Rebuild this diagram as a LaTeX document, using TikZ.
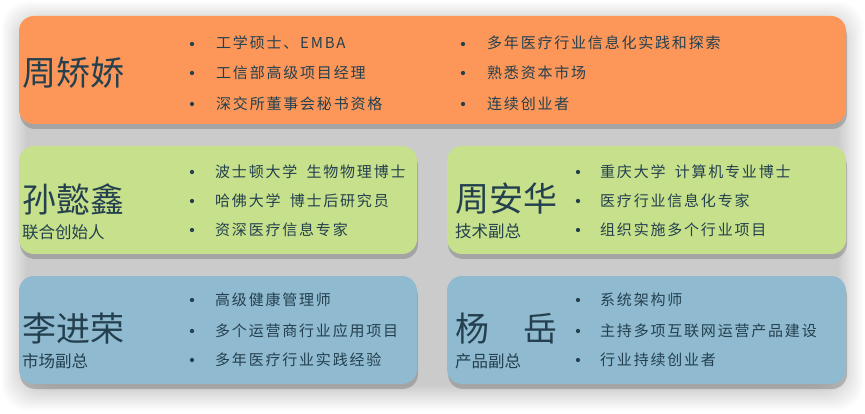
\documentclass[tikz,border=0pt]{standalone}
\usepackage{fontspec}
\newfontfamily\cjk{Noto Sans CJK SC}
\usetikzlibrary{shadows}
\definecolor{orangebox}{HTML}{FC9759}
\definecolor{greenbox}{HTML}{C6E08B}
\definecolor{bluebox}{HTML}{8FBACF}
\definecolor{txt}{HTML}{24404F}
\tikzset{
  panel/.style={rounded corners=15pt, draw=none,
    drop shadow={shadow xshift=1pt, shadow yshift=-5pt, opacity=0.3, fill=black!70}},
  bigname/.style={font=\cjk\fontsize{34}{34}\selectfont, text=txt, anchor=west, inner sep=0pt},
  role/.style={font=\cjk\fontsize{16.5}{17}\selectfont, text=txt, anchor=west, inner sep=0pt},
  item/.style={font=\cjk\fontsize{15}{15}\selectfont\addfontfeature{LetterSpace=12}, text=txt, anchor=west, inner sep=0pt},
  dot/.style={circle, fill=txt, draw=none, minimum size=4.3pt, inner sep=0pt}
}
\begin{document}
\begin{tikzpicture}[x=1pt,y=-1pt]
\useasboundingbox (0,0) rectangle (865,414);
\fill[white] (0,0) rectangle (865,414);
% soft grey haze behind panels
\foreach \i in {0,2,...,24} {
  \fill[black, opacity=0.017, rounded corners=26pt] (2+\i,2+\i) rectangle (863-\i,410-\i);
}
% panels
\path[panel, fill=orangebox] (19,16) rectangle (846,124);
\path[panel, fill=greenbox] (19,146) rectangle (417,254);
\path[panel, fill=greenbox] (447,146) rectangle (846,254);
\path[panel, fill=bluebox] (19,276) rectangle (417,384);
\path[panel, fill=bluebox] (447,276) rectangle (846,384);

% top panel
\node[bigname] (n1) at (22,73) {周矫娇};
\node[dot] (b11) at (192,44) {};
\node[dot] (b12) at (192,73) {};
\node[dot] (b13) at (192,104) {};
\node[item] (t11) at (216,43) {工学硕士、EMBA};
\node[item] (t12) at (216,73) {工信部高级项目经理};
\node[item] (t13) at (216,104) {深交所董事会秘书资格};
\node[dot] (b14) at (463,44) {};
\node[dot] (b15) at (463,73) {};
\node[dot] (b16) at (463,104) {};
\node[item] (t14) at (487,43) {多年医疗行业信息化实践和探索};
\node[item] (t15) at (487,73) {熟悉资本市场};
\node[item] (t16) at (487,104) {连续创业者};

% green left
\node[bigname] (n2) at (22,199) {孙懿鑫};
\node[role] (r2) at (22,232) {联合创始人};
\node[dot] (b21) at (192,172) {};
\node[dot] (b22) at (192,201) {};
\node[dot] (b23) at (192,230) {};
\node[item] (t21) at (215,172) {波士顿大学\hspace{4pt} 生物物理博士};
\node[item] (t22) at (215,201) {哈佛大学\hspace{4pt} 博士后研究员};
\node[item] (t23) at (215,230) {资深医疗信息专家};

% green right
\node[bigname] (n3) at (455,199) {周安华};
\node[role] (r3) at (455,231) {技术副总};
\node[dot] (b31) at (578,172) {};
\node[dot] (b32) at (578,201) {};
\node[dot] (b33) at (578,230) {};
\node[item] (t31) at (600,172) {重庆大学\hspace{4pt} 计算机专业博士};
\node[item] (t32) at (600,201) {医疗行业信息化专家};
\node[item] (t33) at (600,230) {组织实施多个行业项目};

% blue left
\node[bigname] (n4) at (22,329) {李进荣};
\node[role] (r4) at (22,361) {市场副总};
\node[dot] (b41) at (192,300) {};
\node[dot] (b42) at (192,331) {};
\node[dot] (b43) at (192,360) {};
\node[item] (t41) at (215,300) {高级健康管理师};
\node[item] (t42) at (215,331) {多个运营商行业应用项目};
\node[item] (t43) at (215,360) {多年医疗行业实践经验};

% blue right
\node[bigname] (n5) at (455,329) {杨　岳};
\node[role] (r5) at (455,361) {产品副总};
\node[dot] (b51) at (578,300) {};
\node[dot] (b52) at (578,331) {};
\node[dot] (b53) at (578,360) {};
\node[item] (t51) at (600,300) {系统架构师};
\node[item] (t52) at (600,331) {主持多项互联网运营产品建设};
\node[item] (t53) at (600,360) {行业持续创业者};
\end{tikzpicture}
\end{document}
